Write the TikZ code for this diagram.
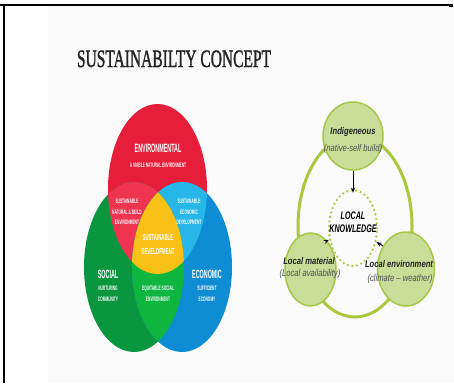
\documentclass[tikz,border=0pt]{standalone}
\usepackage{fontspec}
\setmainfont{Liberation Sans}
\newfontfamily\titlefont[FakeBold=1.6]{Liberation Serif}
\usepackage{graphicx}
\usetikzlibrary{shapes.geometric,arrows.meta}

% Venn colours
\definecolor{envred}{RGB}{231,30,58}
\definecolor{socgreen}{RGB}{10,150,62}
\definecolor{ecoblue}{RGB}{14,140,212}
\definecolor{natpink}{RGB}{238,52,80}
\definecolor{ecocyan}{RGB}{38,182,232}
\definecolor{eqgreen}{RGB}{14,182,64}
\definecolor{sdyellow}{RGB}{250,192,22}
% knowledge cycle colours
\definecolor{ringc}{RGB}{170,200,62}
\definecolor{leaffill}{RGB}{200,222,152}
\definecolor{leafedge}{RGB}{165,198,70}
\definecolor{dotc}{RGB}{172,202,72}
\definecolor{slidebg}{RGB}{250,250,250}
\definecolor{titlec}{RGB}{35,35,35}
\definecolor{subc}{RGB}{80,80,80}

\newcommand\hs[2]{\scalebox{#1}[1]{#2}}

\tikzset{
  vbig/.style={text=white, inner sep=0pt, font=\bfseries\fontsize{12}{12}\selectfont},
  vsmall/.style={text=white, inner sep=0pt, align=center, font=\bfseries\fontsize{6.5}{10.6}\selectfont},
  vmid/.style={text=white, inner sep=0pt, align=center, font=\bfseries\fontsize{8.7}{14}\selectfont},
  leaf/.style={ellipse, draw=leafedge, fill=leaffill, line width=1.5pt, inner sep=0pt},
  dotring/.style={ellipse, draw=dotc, line width=2.6pt, dash pattern=on 0pt off 4.6pt, line cap=round, inner sep=0pt},
  lhead/.style={inner sep=0pt, text=titlec, font=\bfseries\itshape\fontsize{9.8}{9.8}\selectfont},
  lsub/.style={inner sep=0pt, text=subc, font=\itshape\fontsize{9.8}{9.8}\selectfont},
  lk/.style={inner sep=0pt, text=black, font=\bfseries\itshape\fontsize{11}{11}\selectfont},
  arr/.style={-{Stealth[length=5pt,width=4pt]}, line width=1pt, black},
}

\def\redE{(157.5,189) ellipse [x radius=49.5pt, y radius=85pt]}
\def\greenE{(134,267) ellipse [x radius=50pt, y radius=85pt]}
\def\blueE{(182,267) ellipse [x radius=50pt, y radius=85pt]}

\begin{document}
\begin{tikzpicture}[x=1pt,y=-1pt]
\useasboundingbox (0,0) rectangle (454,383);
\fill[white] (0,0) rectangle (454,383);
\fill[slidebg] (48,6) rectangle (454,383);

% frame lines
\draw[line width=2pt] (4.3,4.5) -- (4.3,383);
\draw[line width=2pt] (0,5) -- (48,5);
\draw[line width=1.1pt] (48,5) -- (450,5);
\draw[line width=2.2pt] (449,5.5) -- (453,5.5);

% title
\node[anchor=base, inner sep=0pt, text=titlec] (title) at (174,67)
  {\titlefont\fontsize{25}{25}\selectfont\hs{0.62}{SUSTAINABILTY CONCEPT}};

% Venn diagram
\fill[envred] \redE;
\fill[socgreen] \greenE;
\fill[ecoblue] \blueE;
\begin{scope}\clip \redE; \fill[natpink] \greenE; \end{scope}
\begin{scope}\clip \redE; \fill[ecocyan] \blueE; \end{scope}
\begin{scope}\clip \greenE; \fill[eqgreen] \blueE; \end{scope}
\begin{scope}\clip \redE; \clip \greenE; \fill[sdyellow] \blueE; \end{scope}

\node[vbig] (env) at (158,148) {\hs{0.45}{ENVIRONMENTAL}};
\node[vsmall] (envsub) at (158,165) {\hs{0.5}{A VIABLE NATURAL ENVIRONMENT}};
\node[vsmall] (nat) at (127,212) {\hs{0.5}{SUSTAINABLE}\\\hs{0.5}{NATURAL \& BUILD}\\\hs{0.5}{ENVIRONMENT}};
\node[vsmall] (eco) at (189,212) {\hs{0.5}{SUSTAINABLE}\\\hs{0.5}{ECONOMIC}\\\hs{0.5}{DEVELOPMENT}};
\node[vmid] (sd) at (158,244) {\hs{0.5}{SUSTAINABLE}\\\hs{0.5}{DEVELOPMENT}};
\node[vbig] (soc) at (108,274) {\hs{0.45}{SOCIAL}};
\node[vsmall] (socsub) at (108,293.5) {\hs{0.5}{NURTURING}\\\hs{0.5}{COMMUNITY}};
\node[vsmall] (eq) at (158,293.5) {\hs{0.5}{EQUITABLE SOCIAL}\\\hs{0.5}{ENVIRONMENT}};
\node[vbig] (econ) at (207,274) {\hs{0.45}{ECONOMIC}};
\node[vsmall] (econsub) at (207,293.5) {\hs{0.5}{SUFFICIENT}\\\hs{0.5}{ECONOMY}};

% local knowledge cycle
\draw[ringc, line width=3pt] (355,226) ellipse [x radius=57pt, y radius=91pt];
\node[leaf, minimum width=60pt, minimum height=68pt] (ind) at (353,136) {};
\node[leaf, minimum width=51pt, minimum height=73pt] (lm) at (310.5,269.5) {};
\node[leaf, minimum width=57pt, minimum height=74pt] (le) at (406,269) {};
\node[dotring, minimum width=48pt, minimum height=76pt] (lk) at (353,228) {};

\node[lhead] (indt) at (353,132) {\hs{0.78}{Indigeneous}};
\node[lsub] (inds) at (353,149) {\hs{0.78}{(native-self build)}};
\node[lk] (lk1) at (353,216) {\hs{0.65}{LOCAL}};
\node[lk] (lk2) at (353,229) {\hs{0.65}{KNOWLEDGE}};
\node[lhead] (lmt) at (309,261) {\hs{0.78}{Local material}};
\node[lsub] (lms) at (310,274) {\hs{0.78}{(Local availability)}};
\node[lhead] (let) at (399,264) {\hs{0.78}{Local environment}};
\node[lsub] (les) at (400,279) {\hs{0.78}{(climate – weather)}};

\draw[arr, shorten >=-4pt] (ind.south) -- (lk.north);
\draw[arr] (lm.60) -- (lk);
\draw[arr] (le.135) -- (lk);
\end{tikzpicture}
\end{document}
